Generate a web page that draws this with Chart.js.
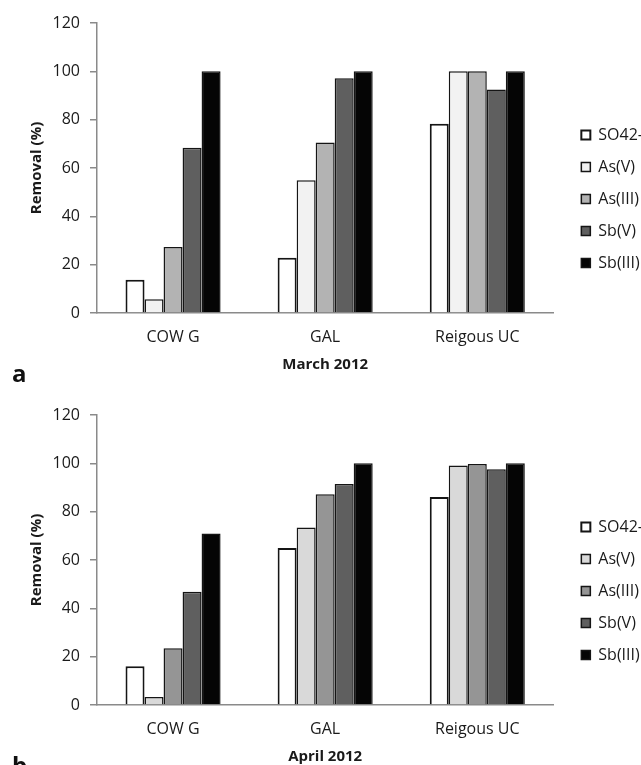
<!DOCTYPE html>
<html>
<head>
<meta charset="utf-8">
<script src="https://cdn.jsdelivr.net/npm/chart.js@4"></script>
<style>
  body { margin: 0; background: #fff; overflow: hidden; }
  .panel { position: absolute; left: 0; width: 641px; height: 392px; }
  .tag { position: absolute; left: 12px; font: bold 24px 'Open Sans', sans-serif; color: #111; }
</style>
</head>
<body>
<div class="panel" style="top:0"><canvas id="marchChart" width="641" height="392"></canvas></div>
<div class="tag" style="top:356px">a</div>
<div class="panel" style="top:392px"><canvas id="aprilChart" width="641" height="392"></canvas></div>
<div class="tag" style="top:748px">b</div>
<script>
const sites = ['COW G', 'GAL', 'Reigous UC'];
const species = ['SO42-', 'As(V)', 'As(III)', 'Sb(V)', 'Sb(III)'];
const yTicks = [0, 20, 40, 60, 80, 100, 120];

// March 2012, removal % per species (COW G, GAL, Reigous UC)
const marchSO4 = [13.8, 22.9, 78.3];
const marchAsV = [5.7, 54.9, 100];
const marchAsIII = [27.3, 70.6, 100];
const marchSbV = [68.4, 97.1, 92.5];
const marchSbIII = [100, 100, 100];

// April 2012
const aprilSO4 = [16.0, 65.0, 86.1];
const aprilAsV = [3.3, 73.5, 99.1];
const aprilAsIII = [23.5, 87.2, 99.7];
const aprilSbV = [46.9, 91.4, 97.6];
const aprilSbIII = [71.0, 100, 100];

const marchFills = ['#ffffff', '#f2f2f2', '#b3b3b3', '#5f5f5f', '#050505'];
const aprilFills = ['#ffffff', '#d9d9d9', '#959595', '#5f5f5f', '#050505'];

const font = "'Open Sans', sans-serif";
const axisGray = '#8a8a8a';

// move the legend a bit off the plot, like the original figure
const legendNudge = {
  id: 'legendNudge',
  afterLayout(chart) {
    const lg = chart.legend;
    lg.left += 12; lg.right += 12;
    lg.top += 3; lg.bottom += 3;
  }
};

function makeChart(id, series, fills, monthLabel) {
  const datasets = series.map((vals, i) => ({
    label: species[i],
    data: vals,
    backgroundColor: fills[i],
    borderColor: '#151515',
    borderWidth: i === 0 ? 2 : 1.5,
    categoryPercentage: 0.625,
    barPercentage: 1.0
  }));

  return new Chart(document.getElementById(id), {
    type: 'bar',
    data: { labels: sites, datasets: datasets },
    plugins: [legendNudge],
    options: {
      responsive: false,
      animation: false,
      layout: { padding: { top: 0, left: 0, right: 0, bottom: 0 } },
      plugins: {
        tooltip: { enabled: false },
        legend: {
          position: 'right',
          labels: {
            boxWidth: 9,
            boxHeight: 9,
            padding: 16,
            color: '#1a1a1a',
            font: { family: font, size: 16 }
          }
        }
      },
      scales: {
        x: {
          grid: { display: false, drawTicks: false },
          border: { display: true, color: axisGray, width: 1.5 },
          ticks: { color: '#1a1a1a', padding: 15, font: { family: font, size: 16 } },
          title: {
            display: true,
            text: monthLabel,
            color: '#1a1a1a',
            padding: { top: 0, bottom: 18 },
            font: { family: font, size: 15, weight: 'bold' }
          },
          afterFit: s => { s.height = 79; }
        },
        y: {
          min: 0,
          max: 120,
          afterBuildTicks: s => { s.ticks = yTicks.map(v => ({ value: v })); },
          grid: { display: true, drawOnChartArea: false, drawTicks: true, tickLength: 7, color: axisGray, lineWidth: 1.5 },
          border: { display: true, color: axisGray, width: 1.5 },
          ticks: { color: '#1a1a1a', padding: 10, font: { family: font, size: 16 } },
          title: {
            display: true,
            text: 'Removal (%)',
            color: '#1a1a1a',
            padding: { top: 28, bottom: 0 },
            font: { family: font, size: 15, weight: 'bold' }
          },
          afterFit: s => { s.width = 97; s.paddingTop = 23; }
        }
      }
    }
  });
}

makeChart('marchChart', [marchSO4, marchAsV, marchAsIII, marchSbV, marchSbIII], marchFills, 'March 2012');
makeChart('aprilChart', [aprilSO4, aprilAsV, aprilAsIII, aprilSbV, aprilSbIII], aprilFills, 'April 2012');
</script>
</body>
</html>
